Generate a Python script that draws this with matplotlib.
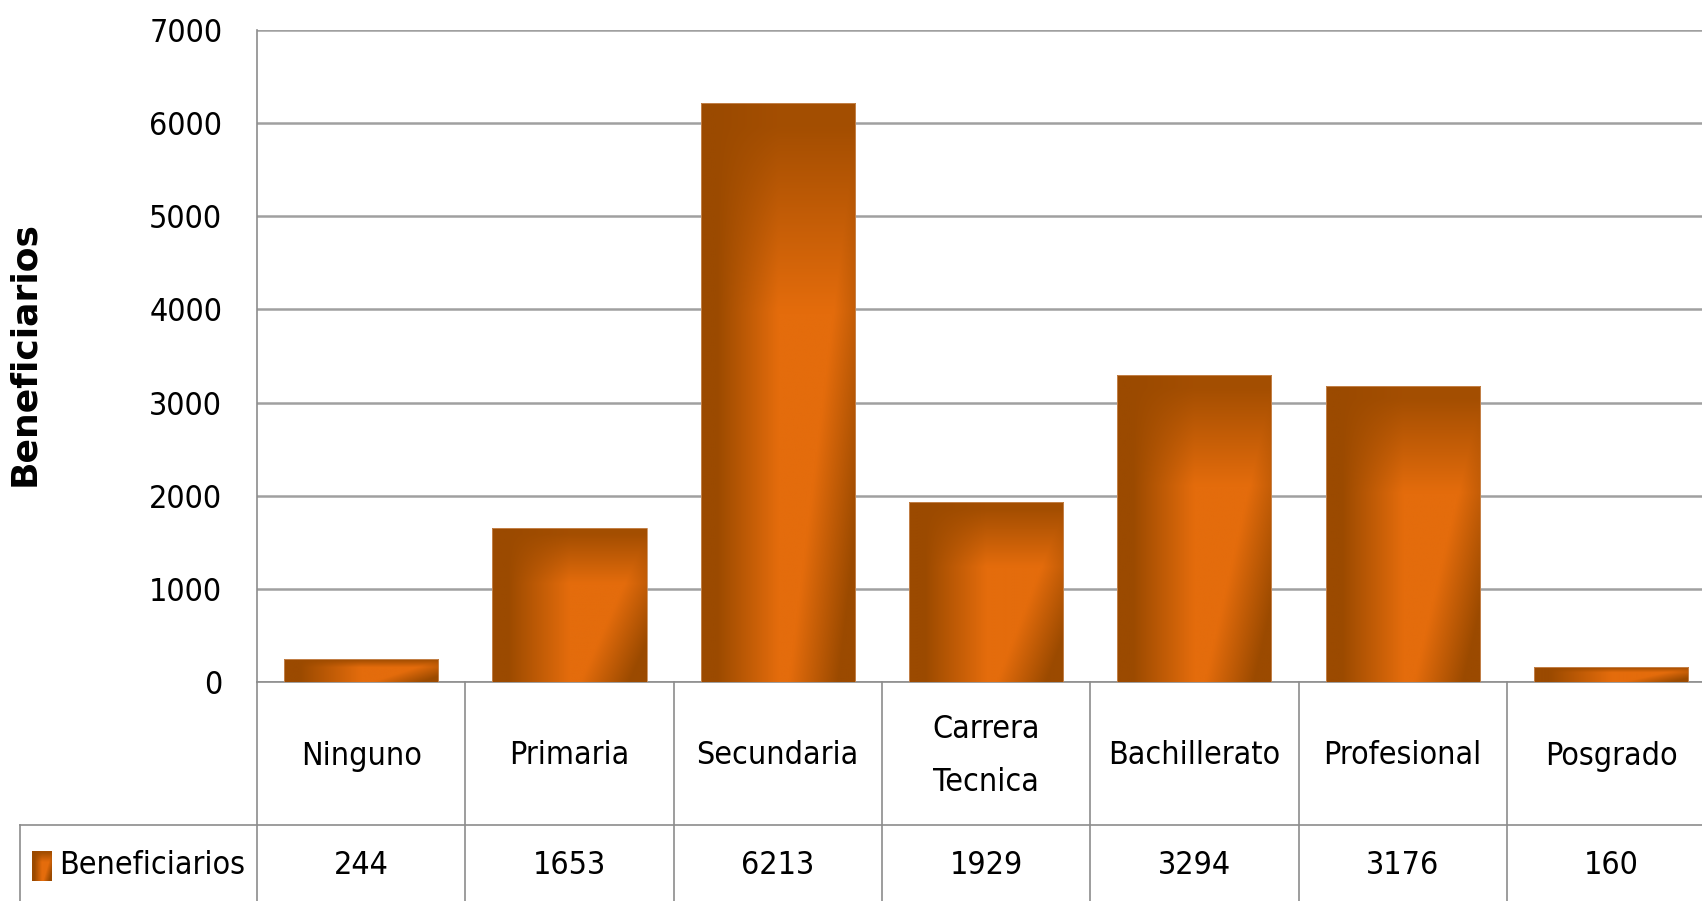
import numpy as np
import matplotlib.pyplot as plt
from matplotlib.transforms import blended_transform_factory

# ==========================================
# DATA
# ==========================================
categories = ['Ninguno', 'Primaria', 'Secundaria', 'Carrera\nTecnica',
              'Bachillerato', 'Profesional', 'Posgrado']
beneficiarios = [244, 1653, 6213, 1929, 3294, 3176, 160]
series_name = 'Beneficiarios'
y_ticks = [0, 1000, 2000, 3000, 4000, 5000, 6000, 7000]

FONT = ['DejaVu Sans']
TXT = dict(family=FONT, stretch='condensed', fontsize=23)
DARK = np.array([155, 74, 0]) / 255
BRIGHT = np.array([228, 108, 12]) / 255
GRID = '#a0a0a0'
LINE = '#8c8c8c'


def bar_gradient(nx=120, ny=240):
    """Excel-like metallic orange fill: dark left edge, dark top, dark lower-right corner."""
    u = np.linspace(0, 1, nx)[None, :]
    v = np.linspace(0, 1, ny)[:, None]          # 0 = top, 1 = bottom
    horiz = np.clip((u - 0.10) / 0.40, 0, 1)
    top = np.clip((v - 0.04) / 0.32, 0, 1)
    corner = 1 - np.clip((u + 0.45 * v - 1.02) / 0.32, 0, 1)
    b = horiz * (0.12 + 0.88 * top) * corner
    b = np.clip(b, 0, 1)[..., None]
    return DARK * (1 - b) + BRIGHT * b


# ==========================================
# PLOT
# ==========================================
W, H = 1702, 901
fig = plt.figure(figsize=(W / 100, H / 100), dpi=100)

x0, x1 = 257, 257 + 7 * 208.3
y_top, y_zero = 30, 682
ax = fig.add_axes([x0 / W, 1 - y_zero / H, (x1 - x0) / W, (y_zero - y_top) / H])

x = np.arange(len(categories))
bw = 0.74
grad = bar_gradient()
for xi, val in zip(x, beneficiarios):
    ax.imshow(grad, extent=(xi - bw / 2, xi + bw / 2, 0, val), aspect='auto',
              interpolation='bilinear', zorder=3)
    ax.add_patch(plt.Rectangle((xi - bw / 2, 0), bw, val, fill=False,
                               edgecolor='#c98a55', lw=0.6, zorder=4))

ax.set_xlim(-0.5, len(categories) - 0.5)
ax.set_ylim(0, 7000)
ax.set_yticks(y_ticks)
ax.set_yticklabels([str(t) for t in y_ticks], **TXT)
ax.tick_params(axis='y', length=0, pad=25)
ax.set_xticks([])
ax.grid(axis='y', color=GRID, lw=1.8, zorder=0)
ax.set_axisbelow(True)
for side in ['top', 'right', 'bottom']:
    ax.spines[side].set_visible(False)
ax.spines['left'].set_color(LINE)
ax.spines['left'].set_linewidth(1.2)

ax.set_ylabel(series_name, fontsize=26, fontweight='bold', family='DejaVu Sans')
ax.yaxis.set_label_coords((41 - x0) / (x1 - x0), 1 - (354 - y_top) / (y_zero - y_top))

# ==========================================
# DATA TABLE UNDER THE AXIS
# ==========================================
px_h = y_zero - y_top
row1 = -(825 - y_zero) / px_h
row2 = -(910 - y_zero) / px_h
leg_left = (20 - x0) / 208.3 - 0.5
tr = blended_transform_factory(ax.transData, ax.transAxes)
kw = dict(color=LINE, lw=1.2, transform=tr, clip_on=False)

ax.plot([-0.5, len(categories) - 0.5], [0, 0], **kw)
ax.plot([leg_left, len(categories) - 0.5], [row1, row1], **kw)
ax.plot([leg_left, leg_left], [row1, row2], **kw)
for b in np.arange(len(categories) + 1) - 0.5:
    ax.plot([b, b], [0, row2], **kw)

for xi, cat, val in zip(x, categories, beneficiarios):
    ax.text(xi, -(756 - y_zero) / px_h, cat, ha='center', va='center',
            linespacing=1.95, transform=tr, **TXT)
    ax.text(xi, -(866 - y_zero) / px_h, str(val), ha='center', va='center',
            transform=tr, **TXT)

# legend key in the first cell
key_ax = fig.add_axes([32 / W, 1 - 881 / H, 20 / W, 30 / H])
key_ax.imshow(bar_gradient(20, 30), aspect='auto', interpolation='bilinear')
key_ax.axis('off')
fig.text(59 / W, 1 - 866 / H, series_name, ha='left', va='center', **TXT)

plt.savefig('out.png', dpi=100)
